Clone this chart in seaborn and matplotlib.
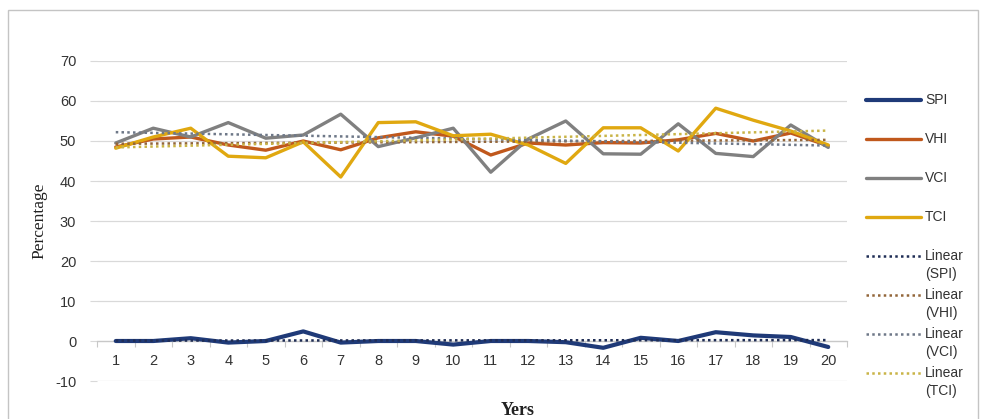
import matplotlib
matplotlib.use("Agg")
import matplotlib.pyplot as plt
from matplotlib.lines import Line2D
from matplotlib.patches import Rectangle
import pandas as pd
import seaborn as sns

# ---- data -------------------------------------------------------------
years = list(range(1, 21))
spi = [0.0, 0.0, 0.7, -0.4, 0.0, 2.4, -0.4, 0.0, 0.0, -0.9,
       0.0, 0.0, -0.3, -1.7, 0.8, 0.0, 2.2, 1.4, 1.0, -1.5]
vhi = [48.5, 50.5, 51.0, 49.0, 47.7, 50.0, 47.8, 50.8, 52.3, 51.2,
       46.5, 49.5, 49.0, 49.6, 49.5, 50.3, 51.9, 50.0, 52.0, 48.8]
vci = [49.5, 53.2, 51.0, 54.6, 50.7, 51.5, 56.7, 48.6, 50.8, 53.2,
       42.2, 50.5, 55.0, 46.8, 46.7, 54.3, 46.9, 46.1, 54.0, 48.4]
tci = [48.2, 51.0, 53.2, 46.2, 45.8, 49.8, 41.0, 54.6, 54.8, 51.3,
       51.7, 49.0, 44.4, 53.3, 53.3, 47.5, 58.2, 55.2, 52.5, 49.0]
series_names = ["SPI", "VHI", "VCI", "TCI"]
y_ticks = [-10, 0, 10, 20, 30, 40, 50, 60, 70]

# ---- styles -----------------------------------------------------------
line_colors = {"SPI": "#1F3A78", "VHI": "#C0581C", "VCI": "#808080", "TCI": "#E0A810"}
trend_colors = {"SPI": "#1F2D55", "VHI": "#93663A", "VCI": "#6E7888", "TCI": "#C9B447"}
dot_style = (0, (1.0, 1.3))

sns.set_theme(style="white")
plt.rcParams["font.family"] = ["Liberation Sans", "DejaVu Sans"]
plt.rcParams["axes.unicode_minus"] = False

W, H = 982, 419
fig = plt.figure(figsize=(W / 100, H / 100), dpi=100)
ax = fig.add_axes([97 / W, 1 - 381 / H, 750 / W, 320 / H])

df = pd.DataFrame({"Year": years, "SPI": spi, "VHI": vhi, "VCI": vci, "TCI": tci})

for name in series_names:
    sns.lineplot(data=df, x="Year", y=name, color=line_colors[name],
                 lw=3.0 if name == "SPI" else 2.4, ax=ax, zorder=3)
for name in series_names:
    sns.regplot(data=df, x="Year", y=name, scatter=False, ci=None, truncate=True,
                line_kws=dict(color=trend_colors[name], lw=1.8, linestyle=dot_style,
                              zorder=4), ax=ax)

# ---- axes -------------------------------------------------------------
ax.set_xlim(0.5, 20.5)
ax.set_ylim(-10, 70)
ax.set_yticks(y_ticks)
ax.set_xticks(years)
ax.set_xticks([y - 0.5 for y in years] + [20.5], minor=True)
ax.grid(False)
ax.yaxis.grid(True, color="#D9D9D9", lw=0.9)
for side in ["top", "right", "left"]:
    ax.spines[side].set_visible(False)
ax.spines["bottom"].set_position(("data", 0))
ax.spines["bottom"].set_color("#C8C8C8")
ax.spines["bottom"].set_linewidth(0.9)

ax.tick_params(axis="x", which="major", length=0, pad=9, labelsize=10.5,
               labelcolor="#333333")
ax.tick_params(axis="x", which="minor", bottom=True, length=4, width=0.8,
               color="#C8C8C8", direction="out")
ax.tick_params(axis="y", left=True, length=5, width=0.8, color="#D9D9D9",
               pad=10, labelsize=10.5, labelcolor="#333333")

ax.set_xlabel("")
ax.set_ylabel("Percentage", family=["Liberation Serif", "DejaVu Serif"],
              fontsize=12.5, color="#222222")
ax.yaxis.set_label_coords(-0.066, 0.5)

fig.text(518 / W, 1 - 410 / H, "Yers", family=["Liberation Serif", "DejaVu Serif"],
         weight="bold", fontsize=13, ha="center", va="center", color="#222222")

# ---- legend -----------------------------------------------------------
legend_rows = [("SPI", "SPI", False), ("VHI", "VHI", False), ("VCI", "VCI", False),
               ("TCI", "TCI", False), ("SPI", "Linear\n(SPI)", True),
               ("VHI", "Linear\n(VHI)", True), ("VCI", "Linear\n(VCI)", True),
               ("TCI", "Linear\n(TCI)", True)]
for i, (key, label, dotted) in enumerate(legend_rows):
    yc = 100 + 39 * i
    yf = 1 - yc / H
    if dotted:
        fig.add_artist(Line2D([866 / W, 921 / W], [yf, yf], transform=fig.transFigure,
                              color=trend_colors[key], lw=1.8, linestyle=dot_style))
    else:
        fig.add_artist(Line2D([866 / W, 921 / W], [yf, yf], transform=fig.transFigure,
                              color=line_colors[key], lw=3.0 if key == "SPI" else 2.4))
    lines = label.split("\n")
    for j, txt in enumerate(lines):
        fig.text(925 / W, 1 - (yc + 18 * j) / H, txt, fontsize=10, color="#333333",
                 ha="left", va="center")

# ---- chart frame ------------------------------------------------------
fig.add_artist(Rectangle((8 / W, 1 - 440 / H), 970 / W, 430 / H,
                         transform=fig.transFigure, fill=False,
                         edgecolor="#C4C4C4", lw=1.0, clip_on=False))

fig.savefig("out.png", dpi=100)
